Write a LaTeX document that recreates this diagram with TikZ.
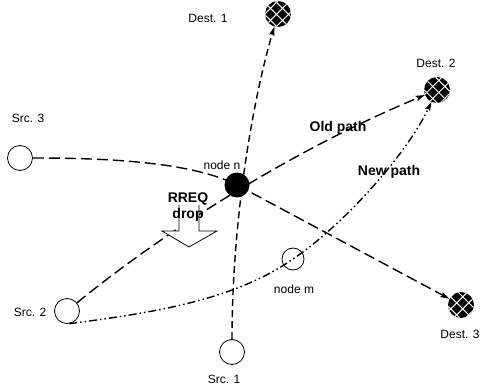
\documentclass[tikz,border=0pt]{standalone}
\usepackage{fontspec}
\setmainfont{Liberation Sans}
\usetikzlibrary{arrows.meta,patterns.meta,backgrounds}
\begin{document}
\begin{tikzpicture}[x=1pt,y=-1pt,
  hostnode/.style={circle,draw=black,line width=0.8pt,minimum size=25pt,inner sep=0pt},
  desthub/.style={circle,fill=black,minimum size=26pt,inner sep=0pt,
    postaction={pattern={Lines[angle=45,distance=8.5pt,line width=1pt]},pattern color=white},
    postaction={pattern={Lines[angle=-45,distance=8.5pt,line width=1pt]},pattern color=white}},
  relay/.style={circle,fill=black,minimum size=25pt,inner sep=0pt},
  tag/.style={font=\fontsize{12}{14}\selectfont,inner sep=0pt},
  boldtag/.style={font=\fontsize{14}{16}\selectfont\bfseries,inner sep=0pt},
  link/.style={line width=1.4pt},
  longdash/.style={link,dash pattern=on 11pt off 5pt},
  shortdash/.style={link,dash pattern=on 7pt off 4pt},
  dashdotdot/.style={link,dash pattern=on 8pt off 3pt on 1.5pt off 3pt on 1.5pt off 3pt},
  tip/.style={-{Stealth[length=9pt,width=5.5pt,inset=1.5pt]}}
]
\useasboundingbox (0,0) rectangle (481,387);

% hosts
\node[desthub] (dest1) at (278,14) {};
\node[desthub] (dest2) at (437,90) {};
\node[desthub] (dest3) at (461,305) {};
\node[hostnode] (src1) at (232,352) {};
\node[hostnode] (src2) at (67,311) {};
\node[hostnode] (src3) at (20,158) {};
\node[relay] (noden) at (237,185) {};
\node[hostnode,minimum size=22pt] (nodem) at (293,259) {};

% labels
\node[tag] (ldest1) at (208,18) {Dest. 1};
\node[tag] (ldest2) at (436,63) {Dest. 2};
\node[tag] (ldest3) at (460,334) {Dest. 3};
\node[tag] (lsrc1) at (224,379) {Src. 1};
\node[tag] (lsrc2) at (30,312) {Src. 2};
\node[tag] (lsrc3) at (28,118) {Src. 3};
\node[tag] (lnoden) at (222,165) {node n};
\node[tag] (lnodem) at (294,289) {node m};

% routes
\begin{scope}[on background layer]
  \draw[shortdash,tip] (src1) .. controls (232,230) and (250,110) .. (dest1);
  \draw[longdash,tip] (src3) .. controls (100,158) and (190,161) .. (noden.center) -- (dest3);
  \draw[longdash,tip] (src2) .. controls (166,230) and (296,148.5) .. (dest2);
  \draw[dashdotdot,tip] (src2.-80) .. controls (150,313) and (233,301) .. (nodem.center)
        .. controls (343,225.5) and (407,154) .. (dest2);
\end{scope}

% dropped request marker
\draw[line width=0.8pt,fill=white] (179,205) -- (179,231) -- (162,231) -- (189,247)
      -- (217,231) -- (199,231) -- (199,205);
\node[boldtag,align=center] (rreq) at (188,207) {RREQ\\drop};

\node[boldtag] (lold) at (338,128) {Old path};
\node[boldtag] (lnew) at (389,172) {New path};
\end{tikzpicture}
\end{document}
